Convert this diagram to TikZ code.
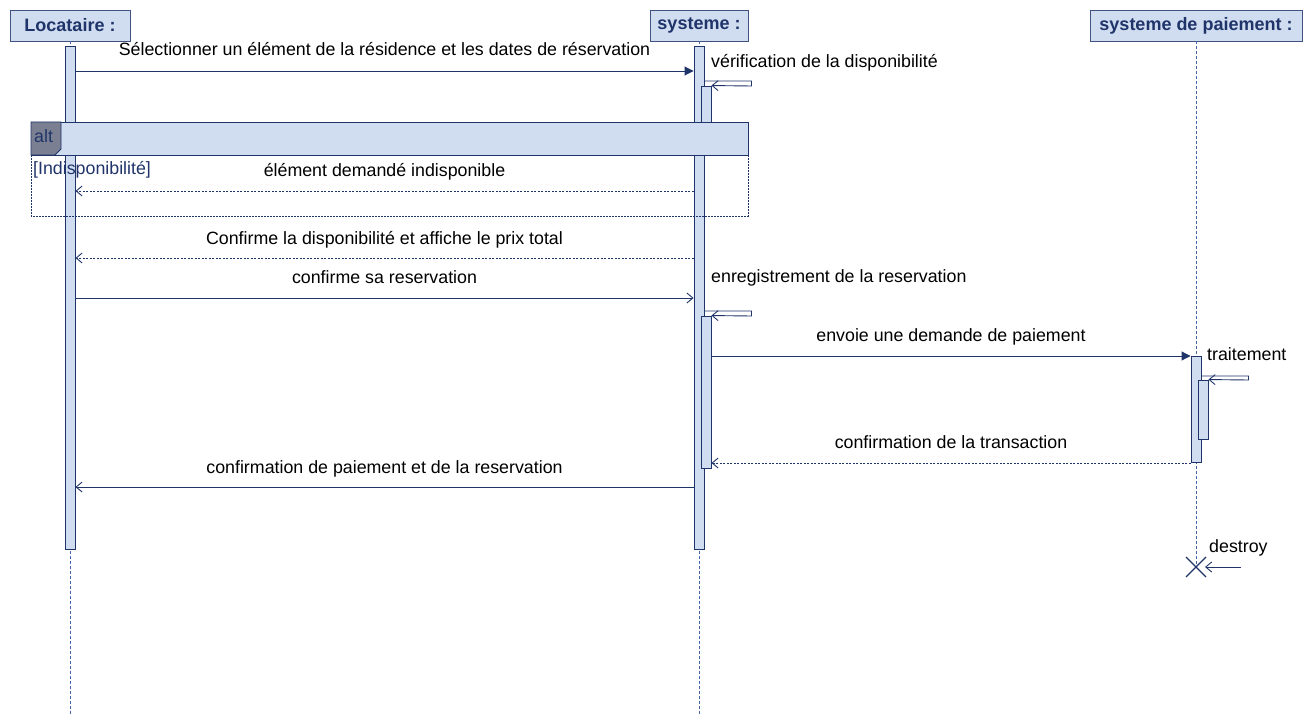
\documentclass[tikz,border=0pt]{standalone}
\usepackage{fontspec}
\setmainfont{Liberation Sans}
\usetikzlibrary{arrows.meta}

\definecolor{navy}{RGB}{31,52,105}
\definecolor{lightfill}{RGB}{208,220,240}
\definecolor{lifeblue}{RGB}{70,100,170}
\definecolor{tabgray}{RGB}{122,128,145}

\tikzset{
  actor/.style={draw=navy!85, fill=lightfill, minimum height=31pt, inner sep=0pt,
    line width=0.9pt, font=\fontsize{18}{21}\selectfont\bfseries, text=navy},
  bar/.style={draw=navy, fill=lightfill, minimum width=10pt, inner sep=0pt, line width=0.9pt},
  lifeline/.style={draw=lifeblue, dash pattern=on 3pt off 2pt, line width=0.6pt},
  msg/.style={draw=navy, line width=0.9pt, -{Straight Barb[length=6pt,width=10pt]}},
  call/.style={draw=navy, line width=0.9pt, -{Triangle[length=9pt,width=9pt]}},
  reply/.style={msg, dash pattern=on 2pt off 1.5pt},
  lbl/.style={midway, anchor=base, yshift=15pt, inner sep=0pt, font=\fontsize{17.8}{21}\selectfont},
  note/.style={anchor=base west, inner sep=0pt, font=\fontsize{17.8}{21}\selectfont},
}

\begin{document}
\begin{tikzpicture}[x=1pt, y=-1pt]
    \useasboundingbox (0,0) rectangle (1313,727);

    % Actors
    \node[actor, minimum width=120pt] (locataire) at (70,25.5) {Locataire :};
    \node[actor, minimum width=98pt] (systeme) at (699,25.5) {systeme :};
    \node[actor, minimum width=212pt] (paiement) at (1196,25.5) {systeme de paiement :};

    % Lifelines
    \coordinate (endL) at (70,716);
    \coordinate (endS) at (699,716);
    \coordinate (xP) at (1196,567);
    \draw[lifeline] (locataire.south) -- (endL);
    \draw[lifeline] (systeme.south) -- (endS);
    \draw[lifeline] (paiement.south) -- (xP);

    % Activation bars
    \node[bar, minimum height=503pt] (barL) at (70,297.5) {};
    \node[bar, minimum height=503pt] (barS) at (699,297.5) {};
    \node[bar, minimum height=36pt] (barS1) at (706,104) {};
    \node[bar, minimum height=152pt] (barS2) at (706,392) {};
    \node[bar, minimum height=106pt] (barP) at (1196,409) {};
    \node[bar, minimum height=59pt] (barP1) at (1203,409.5) {};

    % Selection and check
    \draw[call] (barL.east |- 0,71) -- (barS.west |- 0,71)
        node[lbl] {Sélectionner un élément de la résidence et les dates de réservation};
    \draw[msg] (barS.east |- 0,81) -- ++(47,0) -- ++(0,5) -- (barS1.north east);
    \node[note] (verif) at (711,68) {vérification de la disponibilité};

    % alt fragment
    \draw[navy, line width=0.9pt, fill=lightfill] (31,122) rectangle (748,155);
    \draw[navy, line width=0.9pt, dash pattern=on 2pt off 1pt] (31,155) -- (31,216) -- (748,216) -- (748,155);
    \draw[navy, line width=0.9pt, fill=tabgray] (31,122) -- (61,122) -- (61,149) -- (55,155) -- (31,155) -- cycle;
    \node[note, text=navy] (altlbl) at (34,143) {alt};
    \node[note, text=navy] (guard) at (33,175) {[Indisponibilité]};
    \draw[reply] (barS.west |- 0,191) -- (barL.east |- 0,191)
        node[lbl, yshift=-1pt] {élément demandé indisponible};

    % Confirmation and booking
    \draw[reply] (barS.west |- 0,258) -- (barL.east |- 0,258)
        node[lbl, yshift=-1pt] {Confirme la disponibilité et affiche le prix total};
    \draw[msg] (barL.east |- 0,298) -- (barS.west |- 0,298)
        node[lbl] {confirme sa reservation};
    \draw[msg] (barS.east |- 0,311) -- ++(47,0) -- ++(0,5) -- (barS2.north east);
    \node[note] (enreg) at (711,282) {enregistrement de la reservation};

    % Payment
    \draw[call] (barS2.east |- 0,356) -- (barP.west |- 0,356)
        node[lbl] {envoie une demande de paiement};
    \draw[msg] (barP.east |- 0,376) -- ++(47,0) -- ++(0,4) -- (barP1.north east);
    \node[note] (trait) at (1207,360) {traitement};
    \draw[reply] (barP.west |- 0,463) -- (barS2.east |- 0,463)
        node[lbl] {confirmation de la transaction};
    \draw[msg] (barS.west |- 0,487) -- (barL.east |- 0,487)
        node[lbl, yshift=-1pt] {confirmation de paiement et de la reservation};

    % Destroy
    \draw[navy, line width=1.2pt] (xP) ++(-10,-10) -- ++(20,20) (xP) ++(-10,10) -- ++(20,-20);
    \coordinate (dstart) at (1241,567);
    \draw[msg, shorten >=9pt] (dstart) -- (xP);
    \node[note] (destroy) at (1209,552) {destroy};
\end{tikzpicture}
\end{document}
